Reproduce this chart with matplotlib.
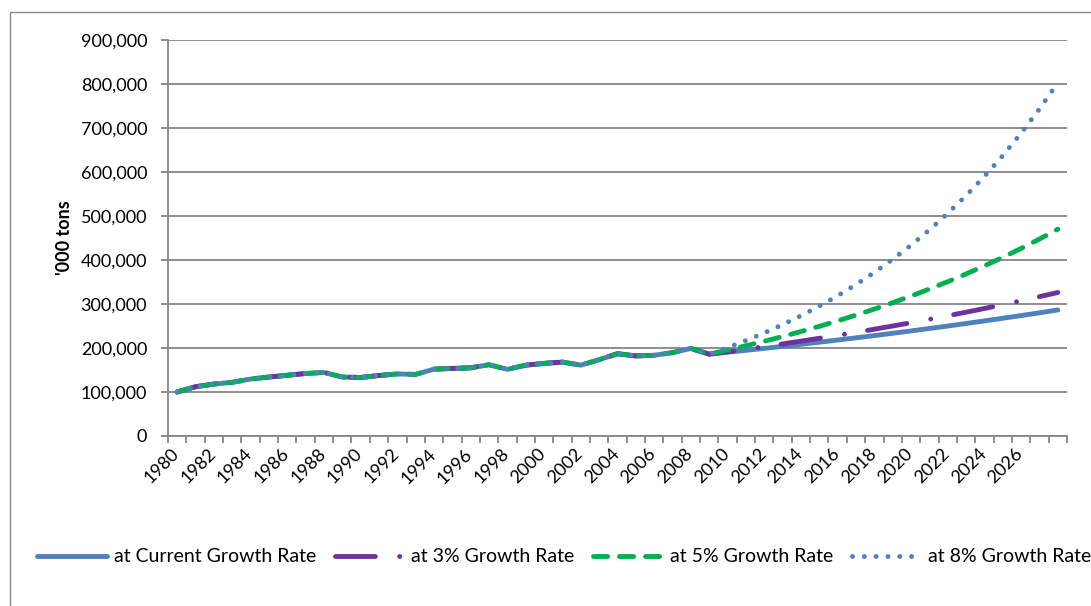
import matplotlib
matplotlib.use("Agg")
import matplotlib.pyplot as plt
import matplotlib.transforms as mtransforms
from matplotlib.patches import Rectangle
from matplotlib.ticker import FuncFormatter, FixedLocator
import numpy as np

# Production in '000 tons: shared history 1980-2009, then four projections 2010-2028
years = list(range(1980, 2029))
history = [100000, 112000, 118000, 122000, 129500, 134000, 138000, 142000, 144500, 134000,
           133000, 137500, 141000, 140000, 152000, 153500, 155000, 162000, 151500, 161000,
           165000, 168000, 161000, 173500, 187000, 182000, 183500, 189500, 199000, 186000]
proj_current = [190300, 194700, 199100, 203700, 208400, 213200, 218100, 223100, 228200, 233500,
                238800, 244300, 249900, 255700, 261600, 267600, 273700, 280000, 286500]
proj_3 = [191600, 197300, 203200, 209300, 215600, 222100, 228800, 235600, 242700, 250000,
          257500, 265200, 273200, 281400, 289800, 298500, 307400, 316700, 326200]
proj_5 = [195300, 205100, 215300, 226100, 237400, 249300, 261700, 274800, 288500, 303000,
          318100, 334000, 350700, 368300, 386700, 406000, 426300, 447600, 470000]
proj_8 = [200900, 217000, 234300, 253100, 273300, 295200, 318800, 344300, 371800, 401600,
          433700, 468400, 505900, 546400, 590100, 637300, 688300, 743300, 802800]
series_labels = ["at Current Growth Rate", "at 3% Growth Rate",
                 "at 5% Growth Rate", "at 8% Growth Rate"]
tick_years = [str(y) for y in years[0:47:2]]

plt.rcParams['font.family'] = ['Lato', 'DejaVu Sans']

W, H = 1091, 606
fig = plt.figure(figsize=(W / 100, H / 100), dpi=100)
fig.patch.set_facecolor('white')

# outer chart frame
fig.patches.append(Rectangle((10 / W, -0.1), 1.2, 1 - 12 / H + 0.1,
                             transform=fig.transFigure, fill=False,
                             edgecolor='#8a8a8a', linewidth=1.0))

ax = fig.add_axes([168 / W, 1 - 436 / H, (1067 - 168) / W, (436 - 40) / H])

x = np.arange(len(years))
grey = '#868686'
lw = 3.5

ax.plot(x, history + proj_current, color='#4F81BD', lw=lw,
        solid_capstyle='round', solid_joinstyle='round', zorder=3,
        label=series_labels[0])
ax.plot(x, history + proj_3, color='#7030A0', lw=lw,
        dashes=(8.2, 5.0, 0.01, 4.8), dash_capstyle='round',
        dash_joinstyle='round', zorder=4, label=series_labels[1])
ax.plot(x, history + proj_5, color='#00B050', lw=lw,
        dashes=(2.9, 2.45), dash_capstyle='round',
        dash_joinstyle='round', zorder=5, label=series_labels[2])
ax.plot(x, history + proj_8, color='#4F81BD', lw=lw,
        dashes=(0.01, 2.42), dash_capstyle='round',
        dash_joinstyle='round', zorder=6, label=series_labels[3])

ax.set_xlim(-0.5, len(years) - 0.5)
ax.set_ylim(0, 900000)

ax.yaxis.set_major_locator(FixedLocator(np.arange(0, 900001, 100000)))
ax.yaxis.set_major_formatter(FuncFormatter(lambda v, p: f"{v:,.0f}"))
ax.grid(axis='y', color=grey, linewidth=1.3, zorder=0)
ax.set_axisbelow(True)

# category boundaries carry the tick marks, centres carry the year labels
ax.xaxis.set_major_locator(FixedLocator(np.arange(-0.5, len(years), 1.0)))
ax.xaxis.set_major_formatter(FuncFormatter(lambda v, p: ""))
ax.xaxis.set_minor_locator(FixedLocator(np.arange(0, 47, 2)))
ax.xaxis.set_minor_formatter(FuncFormatter(lambda v, p: tick_years[int(round(v)) // 2]))
ax.tick_params(axis='x', which='major', length=5, width=1.3, color=grey, direction='out')
ax.tick_params(axis='x', which='minor', length=0, pad=7, labelsize=13)
ax.tick_params(axis='y', length=5, width=1.3, color=grey, pad=10, labelsize=13)

offset = mtransforms.ScaledTranslation(5 / 100, 0, fig.dpi_scale_trans)
for lab in ax.xaxis.get_minorticklabels():
    lab.set_rotation(45)
    lab.set_ha('right')
    lab.set_transform(lab.get_transform() + offset)

for side in ('top', 'right'):
    ax.spines[side].set_visible(False)
for side in ('left', 'bottom'):
    ax.spines[side].set_color(grey)
    ax.spines[side].set_linewidth(1.3)

fig.text(64 / W, 1 - 238 / H, "'000 tons", rotation=90, ha='center', va='center',
         fontweight='bold', fontsize=13)

fig.legend(loc='center left', bbox_to_anchor=(37 / W, 1 - 557 / H), ncol=4,
           frameon=False, fontsize=14, handlelength=3.6, handletextpad=0.35,
           columnspacing=0.95, borderpad=0, borderaxespad=0)

fig.savefig('out.png', dpi=100)
